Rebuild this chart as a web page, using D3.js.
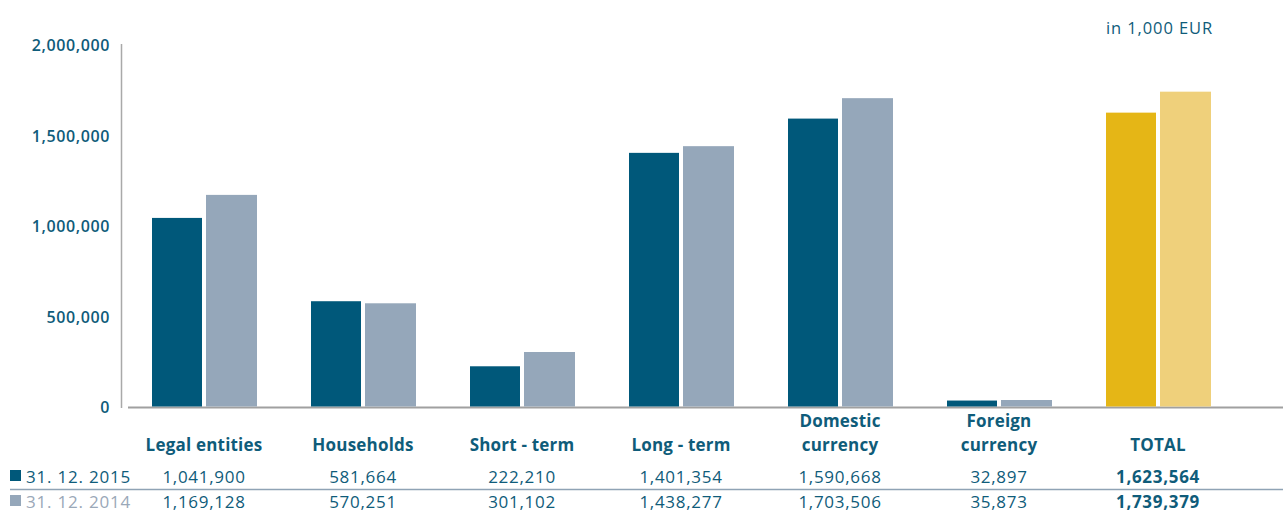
<!DOCTYPE html>
<html><head><meta charset="utf-8">
<script src="https://cdn.jsdelivr.net/npm/d3@7"></script>
<style>body{margin:0;background:#fff;}svg{display:block;font-family:"Open Sans","Noto Sans",sans-serif;}</style>
</head><body><svg id="c" width="1283" height="513"></svg>
<script>
const categories = [["Legal entities"],["Households"],["Short - term"],["Long - term"],["Domestic","currency"],["Foreign","currency"],["TOTAL"]];
const values2015 = [1041900, 581664, 222210, 1401354, 1590668, 32897, 1623564];
const values2014 = [1169128, 570251, 301102, 1438277, 1703506, 35873, 1739379];
const seriesLabels = ["31. 12. 2015", "31. 12. 2014"];
const yTicks = [0, 500000, 1000000, 1500000, 2000000];
const unitLabel = "in 1,000 EUR";

const textColor = "#0f5c7a";
const c2015 = "#00587a", c2014 = "#95a7ba";
const cTot15 = "#e5b616", cTot14 = "#efd07b";

const svg = d3.select("#c");
const fmt = d3.format(",");
const x = d3.scaleBand().domain(d3.range(categories.length)).range([124.5, 1237.5]);
const y = d3.scaleLinear().domain([0, 2000000]).range([406.5, 44.5]);

// axes
svg.append("line").attr("x1",121.5).attr("x2",121.5).attr("y1",44).attr("y2",408).attr("stroke","#a9a9a9").attr("stroke-width",1.5);
svg.append("line").attr("x1",128).attr("x2",1283).attr("y1",407.5).attr("y2",407.5).attr("stroke","#a0a0a0").attr("stroke-width",2);

svg.selectAll(".yt").data(yTicks).join("text")
  .attr("x",110).attr("y",d=>y(d)+1).attr("dy","0.35em").attr("text-anchor","end")
  .attr("font-size",16).attr("font-weight",600).attr("letter-spacing","0.6px").attr("fill",textColor).text(d=>fmt(d));

svg.append("text").attr("x",1106).attr("y",34).attr("font-size",16.5).attr("letter-spacing","0.9px").attr("fill",textColor).text(unitLabel);

const bw = 50;
const g = svg.selectAll(".grp").data(categories.map((c,i)=>i)).join("g");
g.append("rect").attr("x",i=>x(i)+x.bandwidth()/2-bw-2).attr("width",bw)
  .attr("y",i=>y(values2015[i])).attr("height",i=>y(0)-y(values2015[i]))
  .attr("fill",i=>i===6?cTot15:c2015);
g.append("rect").attr("x",i=>x(i)+x.bandwidth()/2+2).attr("width",bw+1)
  .attr("y",i=>y(values2014[i])).attr("height",i=>y(0)-y(values2014[i]))
  .attr("fill",i=>i===6?cTot14:c2014);

// category labels
g.each(function(i){
  const lines = categories[i];
  const t = d3.select(this).append("text").attr("text-anchor","middle").attr("font-size",17)
    .attr("font-weight","bold").attr("letter-spacing","0.2px").attr("fill",textColor);
  lines.forEach((l,k)=>{
    t.append("tspan").attr("x",x(i)+x.bandwidth()/2)
      .attr("y", 451 - (lines.length-1-k)*24).text(l);
  });
});

// table
svg.append("line").attr("x1",10).attr("x2",1283).attr("y1",489.5).attr("y2",489.5).attr("stroke","#8fa3b5").attr("stroke-width",1.5);
const rows = [values2015, values2014];
const rowY = [483, 508];
const rowCol = [c2015, c2014];
const rowTextCol = [textColor, "#9aa8b8"];
rows.forEach((vals,r)=>{
  svg.append("rect").attr("x",10).attr("y",rowY[r]-13).attr("width",11).attr("height",11).attr("fill",rowCol[r]);
  svg.append("text").attr("x",26).attr("y",rowY[r]).attr("font-size",17).attr("letter-spacing","0.8px").attr("fill",rowTextCol[r]).text(seriesLabels[r]);
  svg.selectAll(".v"+r).data(vals).join("text")
    .attr("x",(d,i)=>x(i)+x.bandwidth()/2).attr("y",rowY[r]).attr("text-anchor","middle")
    .attr("font-size",17).attr("letter-spacing","0.7px").attr("fill",textColor).attr("font-weight",(d,i)=>i===6?"bold":"normal")
    .text(d=>fmt(d));
});
</script></body></html>
